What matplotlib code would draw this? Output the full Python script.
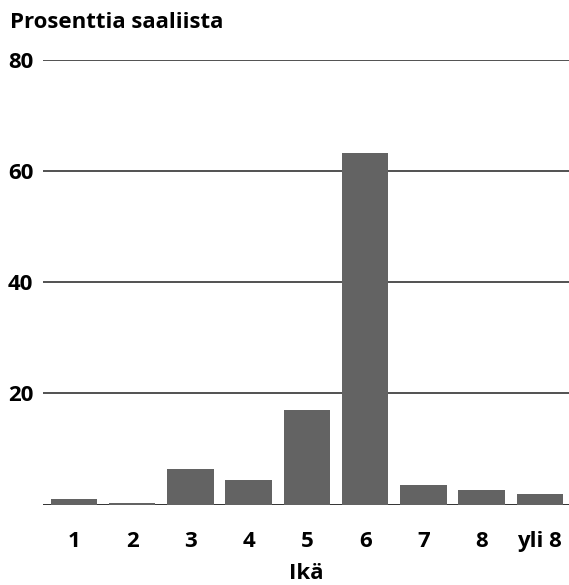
import matplotlib
matplotlib.use('Agg')
import matplotlib.pyplot as plt
import numpy as np

# Data
ages = ['1', '2', '3', '4', '5', '6', '7', '8', 'yli 8']
share = [1.1, 0.3, 6.5, 4.4, 17.0, 63.3, 3.5, 2.6, 1.9]
yticks = [20, 40, 60, 80]

plt.rcParams['font.family'] = ['Open Sans', 'DejaVu Sans']

fig = plt.figure(figsize=(5.69, 5.85), dpi=100)
ax = fig.add_axes([0.0756, 0.1373, 0.9244, 0.7607])

x = np.arange(len(ages))
ax.bar(x, share, width=0.8, color='#636363', zorder=3)

# horizontal grid lines and baseline
for v in yticks:
    ax.axhline(v, color='#222222', linewidth=1.1, zorder=1)
ax.axhline(0, color='#222222', linewidth=1.3, zorder=2)

ax.set_xlim(-0.53, 8.5)
ax.set_ylim(0, 80)
ax.set_yticks(yticks)
ax.set_yticklabels([str(v) for v in yticks], fontsize=16, fontweight='bold')
ax.set_xticks(x)
ax.set_xticklabels(ages, fontsize=16, fontweight='bold')
ax.tick_params(axis='both', length=0)
ax.tick_params(axis='y', pad=7)
ax.tick_params(axis='x', pad=19)
for s in ax.spines.values():
    s.set_visible(False)

ax.set_xlabel('Ikä', fontsize=16, fontweight='bold', labelpad=8)
fig.text(10 / 569, 1 - 23 / 585, 'Prosenttia saaliista', fontsize=16,
         fontweight='bold', ha='left', va='center')

fig.savefig('out.png', dpi=100)
